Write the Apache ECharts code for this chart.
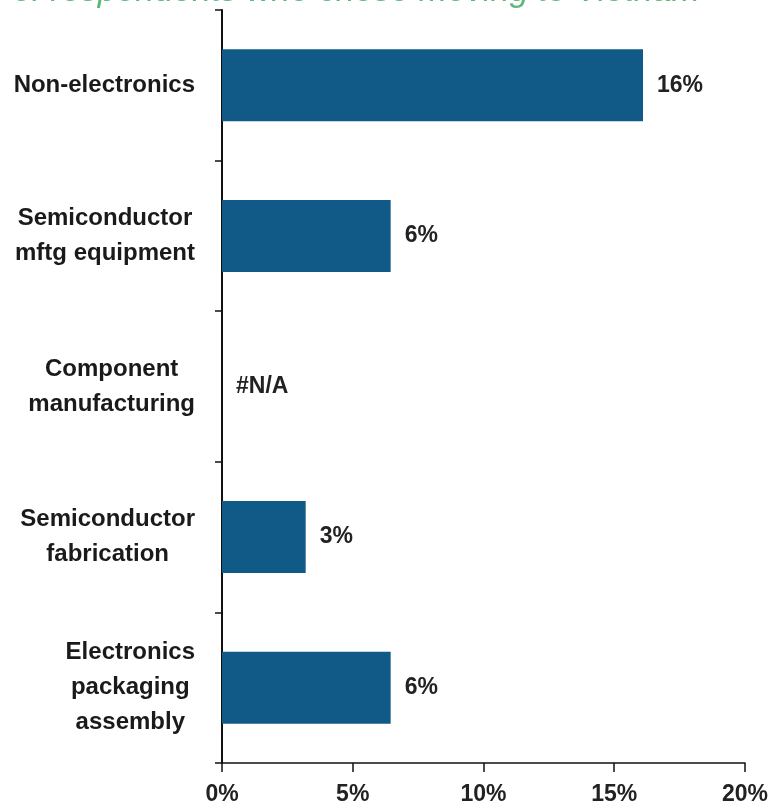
<!DOCTYPE html>
<html>
<head>
<meta charset="utf-8">
<script src="https://cdn.jsdelivr.net/npm/echarts@6/dist/echarts.min.js"></script>
<style>
html,body{margin:0;padding:0;background:#fff;}
#chart{width:771px;height:812px;}
</style>
</head>
<body>
<div id="chart"></div>
<script>
const categories = ['Non-electronics', 'Semiconductor\nmftg equipment', 'Component\nmanufacturing', 'Semiconductor\nfabrication', 'Electronics\npackaging\nassembly'];
const values = [16.1, 6.45, null, 3.2, 6.45];
const valueLabels = ['16%', '6%', '#N/A', '3%', '6%'];
const xTicks = [0, 5, 10, 15, 20];
const titleText = '% of respondents who chose moving to Vietnam';

const FONT = '"Liberation Sans", Arial, sans-serif';
const chart = echarts.init(document.getElementById('chart'));
chart.setOption({
  backgroundColor: '#fff',
  animation: false,
  title: {
    text: titleText,
    left: -32,
    top: -30,
    textStyle: { color: '#5bb877', fontStyle: 'italic', fontWeight: 'normal', fontSize: 34, fontFamily: FONT }
  },
  grid: { left: 222, right: 26, top: 10, bottom: 49, containLabel: false },
  xAxis: {
    type: 'value',
    min: xTicks[0],
    max: xTicks[xTicks.length - 1],
    interval: 5,
    splitLine: { show: false },
    axisLine: { show: true, lineStyle: { color: '#111', width: 1.5 } },
    axisTick: { show: true, length: 9, lineStyle: { color: '#111', width: 1.5 } },
    axisLabel: { margin: 20, formatter: v => v + '%', color: '#222', fontSize: 23, fontWeight: 'bold', fontFamily: FONT }
  },
  yAxis: {
    type: 'category',
    inverse: true,
    data: categories,
    axisLine: { show: true, lineStyle: { color: '#111', width: 2 } },
    axisTick: { show: true, length: 7, lineStyle: { color: '#111', width: 1.5 } },
    axisLabel: {
      margin: 27,
      formatter: v => v.split('\n').map(l => '{c|' + l + '}').join('\n'),
      rich: { c: { align: 'center', color: '#1a1a1a', fontSize: 24, fontWeight: 'bold', fontFamily: FONT, lineHeight: 35 } }
    }
  },
  series: [{
    type: 'bar',
    barWidth: 72,
    data: values.map(v => v === null ? { value: 0, itemStyle: { color: 'rgba(0,0,0,0)' } } : v),
    itemStyle: { color: '#115a87' },
    label: {
      show: true,
      position: 'right',
      distance: 14,
      formatter: p => valueLabels[p.dataIndex],
      color: '#222', fontSize: 23, fontWeight: 'bold', fontFamily: FONT
    }
  }]
});
</script>
</body>
</html>
